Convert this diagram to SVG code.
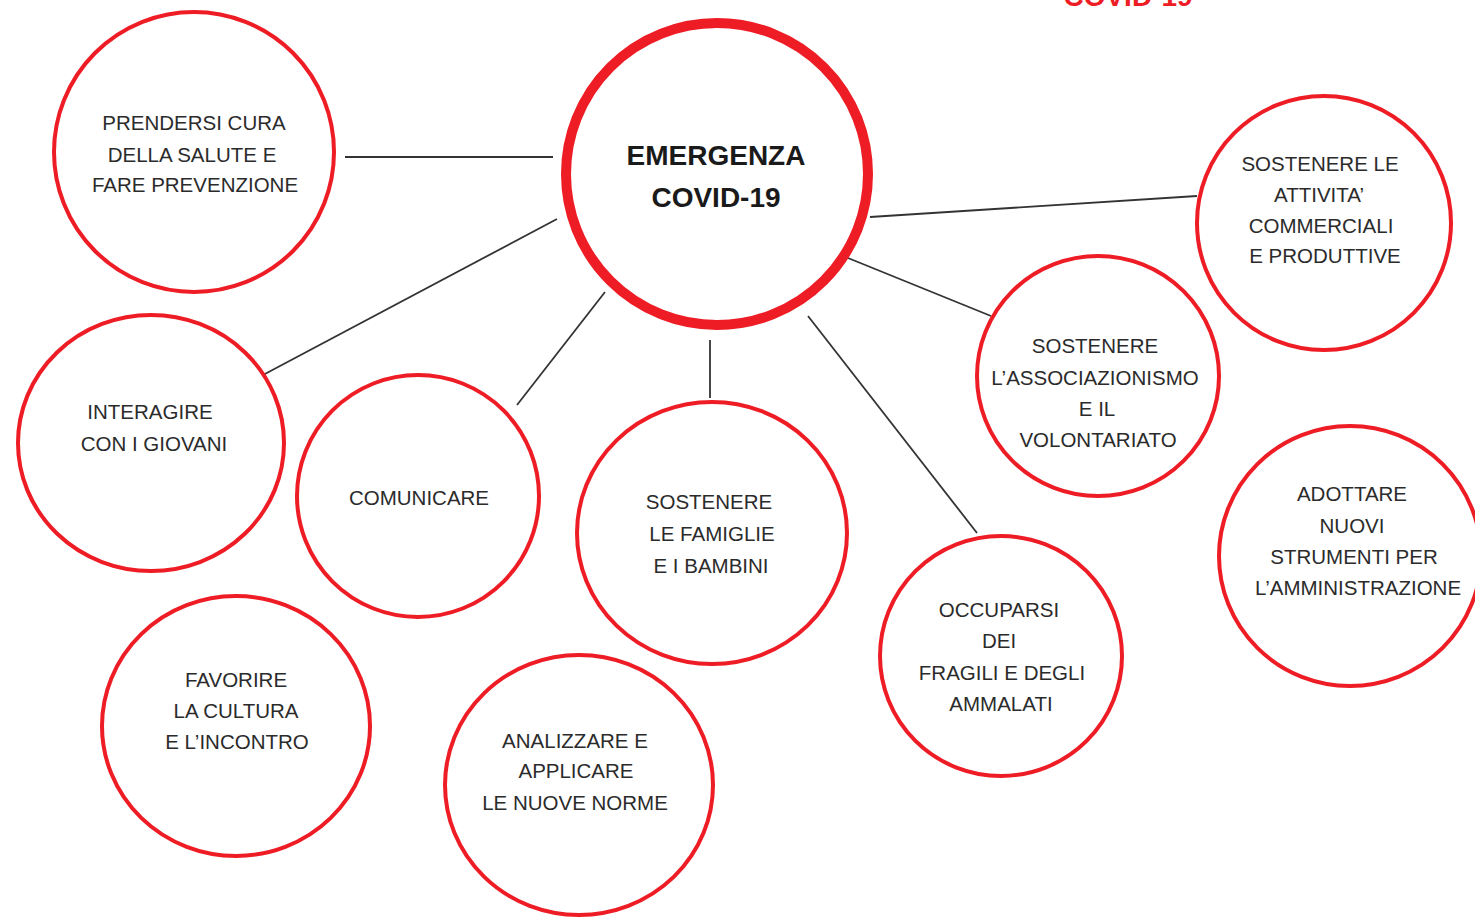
<svg xmlns="http://www.w3.org/2000/svg" width="1475" height="917" viewBox="0 0 1475 917">
<style>
.c{fill:#fff;stroke:#ee1c24;stroke-width:4}
.main{fill:#fff;stroke:#ee1c24;stroke-width:10}
.t{font-family:"Liberation Sans",Arial,sans-serif;font-size:20.5px;fill:#2b2b2b;text-anchor:middle}
.tb{font-family:"Liberation Sans",Arial,sans-serif;font-size:28px;font-weight:bold;fill:#1a1a1a;text-anchor:middle}
.ln{stroke:#333;stroke-width:1.8;fill:none}
</style>
<rect width="1475" height="917" fill="#fff"/>
<text x="1128" y="6" class="tb" style="fill:#ee1c24">COVID-19</text>
<g id="connectors">
<line class="ln" x1="345" y1="157" x2="553" y2="157"/>
<line class="ln" x1="557" y1="219" x2="263" y2="375"/>
<line class="ln" x1="605" y1="292" x2="517" y2="405"/>
<line class="ln" x1="710" y1="340" x2="710" y2="398"/>
<line class="ln" x1="808" y1="316" x2="977" y2="533"/>
<line class="ln" x1="848" y1="258" x2="991" y2="316"/>
<line class="ln" x1="870" y1="217" x2="1197" y2="196"/>
</g>
<g id="center">
<circle class="main" cx="717" cy="174" r="151"/>
<text class="tb" x="716" y="165">EMERGENZA</text>
<text class="tb" x="716" y="207">COVID-19</text>
</g>
<g id="salute">
<ellipse class="c" cx="194" cy="152" rx="140" ry="140"/>
<text class="t" x="194" y="130">PRENDERSI CURA</text>
<text class="t" x="192" y="162">DELLA SALUTE E</text>
<text class="t" x="195" y="192">FARE PREVENZIONE</text>
</g>
<g id="giovani">
<ellipse class="c" cx="151" cy="443" rx="133" ry="128"/>
<text class="t" x="150" y="419">INTERAGIRE</text>
<text class="t" x="154" y="451">CON I GIOVANI</text>
</g>
<g id="comunicare">
<ellipse class="c" cx="418" cy="496" rx="121" ry="121"/>
<text class="t" x="419" y="505">COMUNICARE</text>
</g>
<g id="famiglie">
<ellipse class="c" cx="712" cy="533" rx="135" ry="131"/>
<text class="t" x="709" y="509">SOSTENERE</text>
<text class="t" x="712" y="541">LE FAMIGLIE</text>
<text class="t" x="711" y="573">E I BAMBINI</text>
</g>
<g id="cultura">
<ellipse class="c" cx="236" cy="726" rx="134" ry="130"/>
<text class="t" x="236" y="687">FAVORIRE</text>
<text class="t" x="236" y="718">LA CULTURA</text>
<text class="t" x="237" y="749">E L’INCONTRO</text>
</g>
<g id="norme">
<ellipse class="c" cx="579" cy="785" rx="134" ry="130"/>
<text class="t" x="575" y="748">ANALIZZARE E</text>
<text class="t" x="576" y="778">APPLICARE</text>
<text class="t" x="575" y="810">LE NUOVE NORME</text>
</g>
<g id="fragili">
<ellipse class="c" cx="1001" cy="656" rx="121" ry="120"/>
<text class="t" x="999" y="617">OCCUPARSI</text>
<text class="t" x="999" y="648">DEI</text>
<text class="t" x="1002" y="680">FRAGILI E DEGLI</text>
<text class="t" x="1001" y="711">AMMALATI</text>
</g>
<g id="associazionismo">
<ellipse class="c" cx="1098" cy="376" rx="121" ry="120"/>
<text class="t" x="1095" y="353">SOSTENERE</text>
<text class="t" x="1095" y="385">L’ASSOCIAZIONISMO</text>
<text class="t" x="1097" y="416">E IL</text>
<text class="t" x="1098" y="447">VOLONTARIATO</text>
</g>
<g id="attivita">
<ellipse class="c" cx="1324" cy="223" rx="127" ry="127"/>
<text class="t" x="1320" y="171">SOSTENERE LE</text>
<text class="t" x="1319" y="202">ATTIVITA’</text>
<text class="t" x="1321" y="233">COMMERCIALI</text>
<text class="t" x="1325" y="263">E PRODUTTIVE</text>
</g>
<g id="amministrazione">
<ellipse class="c" cx="1350" cy="556" rx="131" ry="130"/>
<text class="t" x="1352" y="501">ADOTTARE</text>
<text class="t" x="1352" y="533">NUOVI</text>
<text class="t" x="1354" y="564">STRUMENTI PER</text>
<text class="t" x="1358" y="595">L’AMMINISTRAZIONE</text>
</g>
</svg>
